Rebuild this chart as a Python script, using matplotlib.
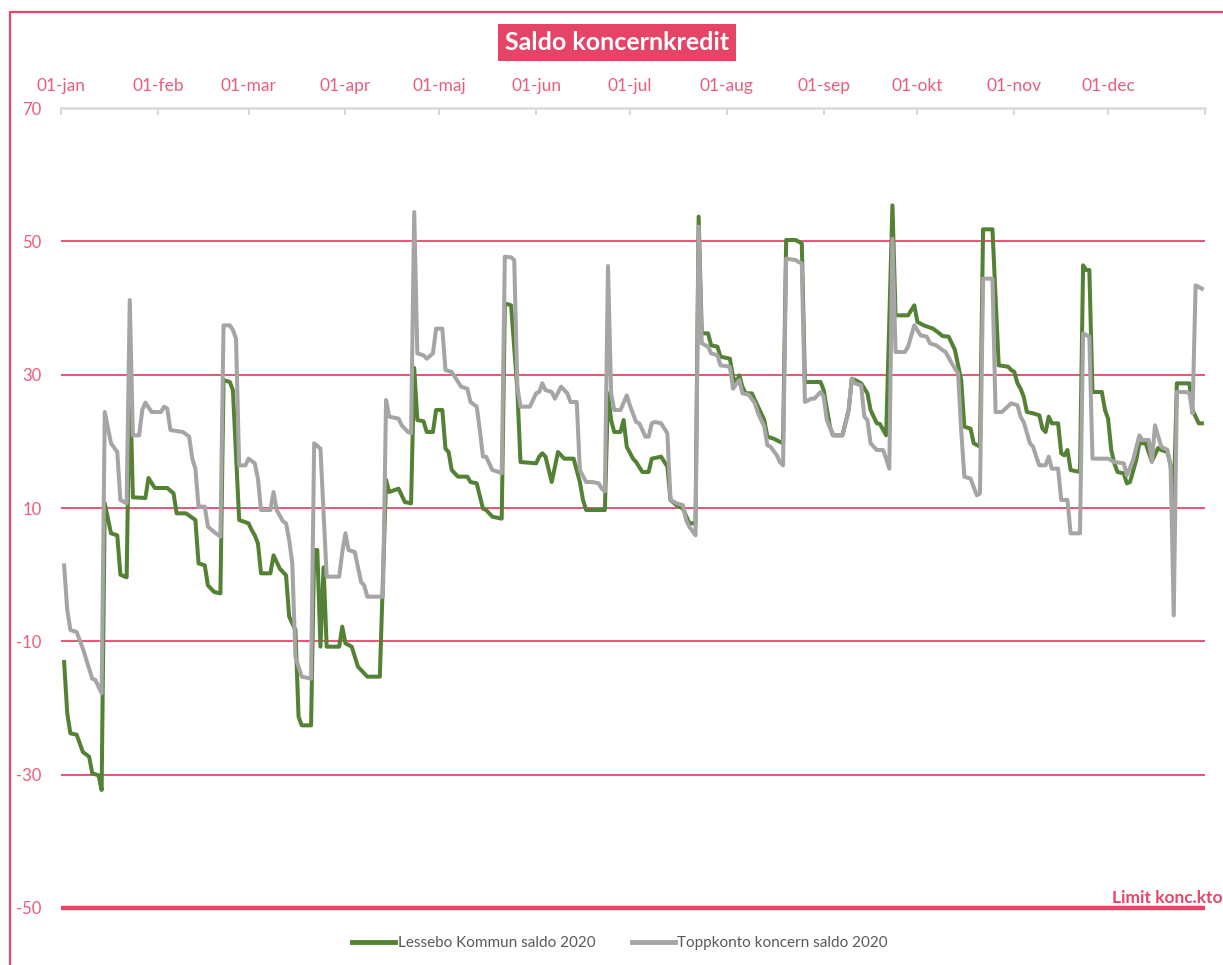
import numpy as np
import matplotlib
matplotlib.use("Agg")
import matplotlib.pyplot as plt
import matplotlib.dates as mdates
from matplotlib.patches import Rectangle

plt.rcParams['font.family'] = ['Lato', 'DejaVu Sans']
plt.rcParams['axes.unicode_minus'] = False

# ---- data (days after 2020-01-01, values in MSEK) ----
green_days = [1,2,3,5,7,9,10,12,13,14,16,18,19,21,22,23,27,28,30,34,36,37,40,43,44,46,47,49,51,52,54,55,57,60,61,62,63,64,67,68,70,72,73,75,76,77,80,81,82,83,84,85,89,90,91,93,95,96,98,102,104,105,108,109,110,112,113,114,116,117,119,120,122,123,124,125,127,130,131,133,135,136,138,141,142,144,146,147,152,153,154,155,157,159,161,164,166,167,168,174,175,176,177,179,180,181,183,184,186,188,189,192,194,195,197,199,201,203,204,205,207,208,210,211,214,215,216,217,218,219,221,222,223,225,226,228,231,232,235,237,238,243,244,246,247,250,252,253,254,256,258,259,261,262,264,266,267,271,273,274,276,279,281,282,284,285,286,288,289,291,292,294,295,298,300,303,304,305,306,307,308,309,311,313,314,315,316,317,319,320,321,322,323,326,327,328,329,330,333,334,335,336,337,338,340,341,342,344,345,347,349,351,352,354,355,356,357,361,362,364,365]
green_vals = [-13.1,-20.8,-23.8,-24.0,-26.6,-27.3,-29.8,-30.1,-32.3,10.7,6.2,5.9,0.0,-0.4,30.2,11.6,11.5,14.5,13.0,13.0,12.2,9.2,9.2,8.2,1.7,1.4,-1.6,-2.6,-2.8,29.2,28.9,27.7,8.2,7.7,6.7,5.9,4.7,0.2,0.2,2.9,0.9,-0.1,-6.3,-8.3,-21.3,-22.6,-22.6,3.7,3.7,-10.8,1.1,-10.8,-10.8,-7.8,-10.3,-10.8,-13.8,-14.3,-15.3,-15.3,14.2,12.4,12.9,11.9,10.9,10.7,31.0,23.2,23.0,21.4,21.4,24.7,24.7,18.9,18.4,15.7,14.7,14.7,13.9,13.7,9.9,9.7,8.7,8.4,40.7,40.4,27.7,16.9,16.7,17.7,18.2,17.7,13.9,18.4,17.4,17.4,13.9,11.2,9.7,9.7,27.2,23.2,21.4,21.4,23.2,19.2,17.4,16.9,15.4,15.4,17.4,17.7,16.2,11.2,10.4,9.9,7.7,7.7,53.7,36.2,36.2,34.4,34.2,32.7,32.4,29.7,28.7,29.9,28.2,27.2,27.2,26.2,25.2,23.2,20.7,20.4,19.7,50.2,50.2,49.7,28.9,28.9,27.7,22.2,20.9,20.9,24.7,29.4,29.2,28.7,27.2,24.7,22.7,22.6,20.9,55.4,38.9,38.9,40.4,37.9,37.4,36.9,36.2,35.8,35.7,34.7,33.7,29.2,22.2,21.9,19.7,19.2,51.8,51.8,31.4,31.2,30.7,30.4,28.7,27.9,26.7,24.4,24.2,23.9,21.9,21.4,23.7,22.7,22.7,18.2,17.9,18.7,15.7,15.4,46.4,45.7,45.7,27.4,27.4,24.7,23.4,18.7,16.7,15.4,15.2,13.7,13.9,17.2,19.7,19.7,17.0,19.0,18.7,18.4,16.4,11.0,28.7,28.7,24.7,22.7,22.7]

gray_days = [1,2,3,5,7,8,10,11,12,13,14,16,18,19,21,22,23,25,26,27,29,32,33,34,35,39,41,42,43,44,46,47,49,51,52,54,55,56,57,59,60,62,63,64,67,68,69,71,72,73,74,75,77,80,81,83,85,89,90,91,92,94,96,97,98,103,104,105,108,109,111,112,113,114,116,117,119,120,122,123,125,128,130,131,133,134,135,136,138,140,141,142,144,145,146,147,150,152,153,154,155,157,158,160,162,163,165,166,168,170,172,173,174,175,176,177,179,181,182,184,185,187,188,189,190,192,194,195,197,199,200,201,203,204,205,207,208,210,211,214,215,217,218,220,222,223,225,226,227,229,230,231,232,235,236,237,238,240,241,243,244,245,247,250,252,253,254,256,257,258,259,261,263,264,265,266,267,270,271,273,275,277,278,280,282,283,285,287,288,289,291,293,294,295,298,299,301,304,306,307,308,310,311,312,313,315,316,317,319,320,322,323,326,327,329,330,335,337,340,341,343,345,346,348,349,350,352,354,355,356,357,360,361,362,363,365]
gray_vals = [1.4,-5.3,-8.3,-8.6,-11.1,-12.6,-15.6,-15.8,-16.8,-17.8,24.4,19.7,18.4,11.2,10.7,41.2,20.9,20.9,24.7,25.8,24.4,24.4,25.2,24.9,21.7,21.4,20.7,17.4,15.9,10.2,10.2,7.2,6.4,5.7,37.4,37.4,36.7,35.4,16.4,16.4,17.4,16.7,14.4,9.7,9.7,12.4,9.7,8.0,7.7,5.2,1.7,-12.3,-15.3,-15.6,19.7,18.9,-0.3,-0.3,3.4,6.2,3.7,3.4,-1.1,-1.6,-3.3,-3.3,26.2,23.7,23.4,22.4,21.4,21.2,54.4,33.2,32.9,32.4,33.2,36.9,36.9,30.7,30.4,28.2,27.9,25.9,25.2,21.7,17.7,17.7,15.7,15.4,15.2,47.7,47.6,47.2,28.2,25.2,25.2,27.2,27.4,28.7,27.7,27.4,26.4,28.2,27.2,25.9,25.9,15.7,13.9,13.9,13.7,12.9,12.5,46.3,27.2,24.7,24.7,26.9,25.4,22.9,22.7,20.7,20.7,22.7,22.9,22.7,21.2,11.2,10.7,10.4,8.2,7.2,5.9,52.2,34.7,34.2,33.2,32.9,31.4,31.2,27.9,29.2,27.2,27.0,25.7,24.2,22.2,19.4,19.2,17.9,16.9,16.4,47.4,47.2,46.9,46.7,25.9,26.4,26.4,27.4,26.7,23.2,20.9,20.9,24.7,29.4,28.7,28.4,23.7,23.2,19.7,18.7,18.7,17.4,15.9,50.4,33.4,33.4,34.2,37.4,35.9,35.7,34.7,34.4,33.7,33.4,31.7,30.2,21.7,14.7,14.4,11.9,12.2,44.4,44.4,24.4,24.4,25.7,25.4,23.7,22.9,19.7,19.2,17.7,16.4,16.4,17.7,15.9,15.9,11.2,11.2,6.2,6.2,36.2,35.7,17.4,17.4,16.9,16.7,14.9,17.2,20.9,20.2,20.2,16.9,22.4,19.2,18.7,16.2,-6.1,27.4,27.4,27.2,24.2,43.4,42.9]

limit_days = [0, 366]
limit_vals = [-50, -50]

month_labels = ["01-jan", "01-feb", "01-mar", "01-apr", "01-maj", "01-jun",
                "01-jul", "01-aug", "01-sep", "01-okt", "01-nov", "01-dec"]
y_ticks = [70, 50, 30, 10, -10, -30, -50]
series_names = ["Lessebo Kommun saldo 2020", "Toppkonto koncern saldo 2020"]
title = "Saldo koncernkredit"
limit_label = "Limit konc.kto"

# ---- styling ----
PINK = "#E8456A"
PINK_TXT = "#EC5C7C"
GREEN = "#548235"
GRAY = "#A5A5A5"

start = np.datetime64("2020-01-01")
to_dates = lambda d: start + np.array(d, dtype="timedelta64[D]")

W, H = 1223, 965
fig = plt.figure(figsize=(W / 100, H / 100), dpi=100)
fig.patch.set_facecolor("white")

left, right, top, bottom = 61, 1205, 108, 908
ax = fig.add_axes([left / W, 1 - bottom / H, (right - left) / W, (bottom - top) / H])

ax.plot(to_dates(green_days), green_vals, color=GREEN, lw=2.9, zorder=3,
        solid_joinstyle="round", label=series_names[0])
ax.plot(to_dates(gray_days), gray_vals, color=GRAY, lw=2.9, zorder=4,
        solid_joinstyle="round", label=series_names[1])
ax.plot(to_dates(limit_days), limit_vals, color=PINK, lw=3.2, zorder=5,
        clip_on=False, solid_capstyle="butt")

ax.set_xlim(start, start + np.timedelta64(366, "D"))
ax.set_ylim(-50, 70)

# gridlines
ax.set_yticks(y_ticks)
ax.grid(axis="y", color=PINK, lw=1.3)
ax.set_axisbelow(True)
for gl, v in zip(ax.yaxis.get_gridlines(), y_ticks):
    if v in (70, -50):
        gl.set_visible(False)
ax.tick_params(axis="y", length=0, pad=14, labelsize=12, labelcolor=PINK_TXT)

# x axis on top
month_ticks = [np.datetime64(f"2020-{m:02d}-01") for m in range(1, 13)]
ax.xaxis.tick_top()
ax.set_xticks(month_ticks + [np.datetime64("2021-01-01")])
ax.set_xticklabels(month_labels + [""])
ax.tick_params(axis="x", direction="in", length=5, width=1.2, color="#D0D0D0",
               pad=10, labelsize=12.5, labelcolor=PINK_TXT)

for s in ["left", "right", "bottom"]:
    ax.spines[s].set_visible(False)
ax.spines["top"].set_color("#D9D9D9")
ax.spines["top"].set_linewidth(1.8)

# limit label
fig.text(1222 / W, 1 - 898 / H, limit_label, ha="right", va="center",
         fontsize=12.5, fontweight="bold", color=PINK)

# title
fig.text(617 / W, 1 - 42 / H, title, ha="center", va="center", fontsize=18,
         fontweight="bold", color="white",
         bbox=dict(boxstyle="square,pad=0.28", fc="#E64466", ec="none"))

# outer frame
fig.patches.append(Rectangle((10 / W, -0.05), 1.2, 1 - 12 / H + 0.05,
                             transform=fig.transFigure, fill=False,
                             ec=PINK, lw=1.6))

# legend
leg = fig.legend(loc="center", bbox_to_anchor=(620 / W, 1 - 943 / H), ncol=2,
                 frameon=False, fontsize=11, handlelength=2.8, handletextpad=0.15,
                 columnspacing=2.4)
for t in leg.get_texts():
    t.set_color("#595959")
for h in leg.get_lines():
    h.set_linewidth(3.5)

fig.savefig("out.png", dpi=100)
